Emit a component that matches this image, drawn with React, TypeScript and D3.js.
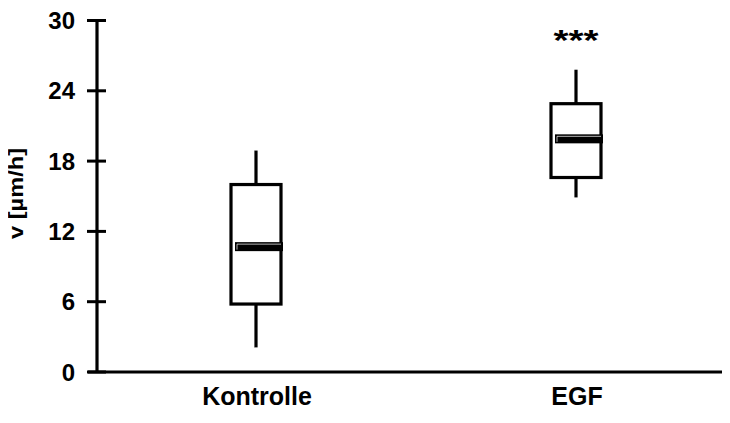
import React, { useRef, useEffect } from 'react';
import * as d3 from 'd3';

const categories = ['Kontrolle', 'EGF'];
const whiskerLow = [2.1, 14.9];
const q1 = [5.8, 16.6];
const median = [10.7, 19.9];
const q3 = [16.0, 22.9];
const whiskerHigh = [18.9, 25.8];
const yTicks = [0, 6, 12, 18, 24, 30];
const significance = ['', '***'];

const W = 730;
const H = 423;

function BoxChart() {
  const ref = useRef<SVGSVGElement>(null);

  useEffect(() => {
    drawChart();
  }, []);

  function drawChart() {
    const svg = d3.select(ref.current);
    svg.selectAll('*').remove();
    const font = 'Liberation Sans, Arial, sans-serif';

    const axisX = 97;
    const yScale = d3.scaleLinear().domain([0, 30]).range([372, 20.5]);
    const xScale = d3.scalePoint<string>().domain(categories).range([256, 576]);
    const boxW = 50;

    // axes
    svg.append('line')
      .attr('x1', axisX).attr('x2', axisX)
      .attr('y1', yScale(30)).attr('y2', yScale(0))
      .attr('stroke', '#000').attr('stroke-width', 3.2);
    svg.append('line')
      .attr('x1', 88).attr('x2', W)
      .attr('y1', yScale(0)).attr('y2', yScale(0))
      .attr('stroke', '#000').attr('stroke-width', 3.2);

    const ticks = svg.append('g');
    ticks.selectAll('line').data(yTicks).enter().append('line')
      .attr('x1', 87).attr('x2', 106)
      .attr('y1', d => yScale(d)).attr('y2', d => yScale(d))
      .attr('stroke', '#000').attr('stroke-width', 3);
    ticks.selectAll('text').data(yTicks).enter().append('text')
      .attr('x', 75).attr('y', d => yScale(d))
      .attr('dy', '0.36em')
      .attr('text-anchor', 'end')
      .attr('font-family', font).attr('font-weight', 'bold').attr('font-size', 24)
      .text(d => d);

    svg.append('text')
      .attr('transform', 'translate(23,193.5) rotate(-90)')
      .attr('text-anchor', 'middle')
      .attr('font-family', font).attr('font-weight', 'bold').attr('font-size', 21)
      .attr('textLength', 91).attr('lengthAdjust', 'spacingAndGlyphs')
      .text('v [µm/h]');

    // category labels
    svg.selectAll('.cat').data(categories).enter().append('text')
      .attr('x', d => xScale(d)! + 1)
      .attr('y', 405)
      .attr('text-anchor', 'middle')
      .attr('font-family', font).attr('font-weight', 'bold').attr('font-size', 25)
      .text(d => d);

    // boxes
    categories.forEach((c, i) => {
      const cx = xScale(c)!;
      const g = svg.append('g');
      g.append('line')
        .attr('x1', cx).attr('x2', cx)
        .attr('y1', yScale(whiskerHigh[i])).attr('y2', yScale(q3[i]))
        .attr('stroke', '#000').attr('stroke-width', 3.2);
      g.append('line')
        .attr('x1', cx).attr('x2', cx)
        .attr('y1', yScale(q1[i])).attr('y2', yScale(whiskerLow[i]))
        .attr('stroke', '#000').attr('stroke-width', 3.2);
      g.append('rect')
        .attr('x', cx - boxW / 2).attr('width', boxW)
        .attr('y', yScale(q3[i])).attr('height', yScale(q1[i]) - yScale(q3[i]))
        .attr('fill', 'none').attr('stroke', '#000').attr('stroke-width', 3.2);
      // median bar
      const my = yScale(median[i]);
      const mx0 = cx - boxW / 2 + 4;
      const mx1 = cx + boxW / 2 + 2;
      g.append('rect')
        .attr('x', mx0).attr('width', mx1 - mx0)
        .attr('y', my - 4.5).attr('height', 9)
        .attr('fill', '#000');
      g.append('path')
        .attr('d', `M${mx0 + 2},${my + 3}V${my - 2.5}H${mx1 - 2}`)
        .attr('fill', 'none').attr('stroke', '#fff').attr('stroke-opacity', 0.7).attr('stroke-width', 1);
      if (significance[i]) {
        g.append('text')
          .attr('x', cx).attr('y', 50)
          .attr('text-anchor', 'middle')
          .attr('font-family', font).attr('font-weight', 'bold').attr('font-size', 30)
          .attr('textLength', 45).attr('lengthAdjust', 'spacingAndGlyphs')
          .text(significance[i]);
      }
    });
  }

  return <svg ref={ref} width={W} height={H} style={{ display: 'block' }} />;
}

export default function App() {
  return (
    <div style={{ margin: -8, background: '#fff' }}>
      <BoxChart />
    </div>
  );
}
